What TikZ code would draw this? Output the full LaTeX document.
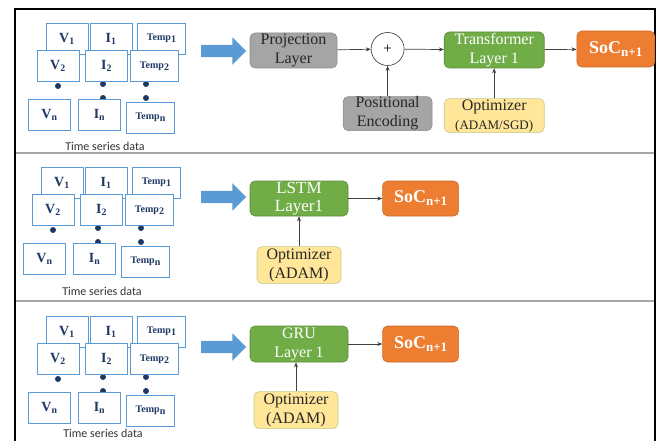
\documentclass[tikz,border=0pt]{standalone}
\usepackage{fontspec}
\setmainfont{Liberation Serif}
\newfontfamily\calibri{Carlito}
\usepackage{tikz}
\usetikzlibrary{%
  shapes, shapes.arrows, arrows.meta, positioning
}
\usepackage{xcolor}
\definecolor{tsNavy}{HTML}{1F3864}
\definecolor{tsBlue}{HTML}{5B9BD5}
\definecolor{tsGray}{HTML}{A5A5A5}
\definecolor{tsGreen}{HTML}{70AD47}
\definecolor{tsOrange}{HTML}{ED7D31}
\definecolor{tsYellow}{HTML}{FFE699}
\definecolor{tsOlive}{HTML}{C3CB8E}
\tikzstyle{dbox} = [%
  rectangle,
  draw=tsBlue,
  fill=white,
  line width=0.8pt,
  minimum width=42pt,
  minimum height=31pt,
  inner sep=0pt,
  text=tsNavy,
  font=\fontsize{14}{14}\selectfont\bfseries
]
\tikzstyle{tbox} = [%
  dbox,
  minimum width=48pt,
  font=\fontsize{10}{10}\selectfont\bfseries
]
\tikzstyle{ddot} = [circle, fill=tsNavy, minimum size=6pt, inner sep=0pt]
\tikzstyle{layer} = [%
  rectangle,
  rounded corners=5pt,
  align=center,
  inner sep=0pt,
  line width=0.6pt,
  font=\fontsize{16}{19}\selectfont
]

\begin{document}
\begin{tikzpicture}[%
  x=1pt, y=-1pt,
  link/.style={%
    -{Stealth[length=5pt,width=4pt]},
    line width=0.7pt,
    draw=black!75
  },
  grey/.style={fill=tsGray, draw=tsGray!85!black, text=black!85},
  green/.style={fill=tsGreen, draw=tsGreen!80!black, text=white},
  orange/.style={%
    fill=tsOrange, draw=tsOrange!85!black, text=white,
    font=\fontsize{18}{18}\selectfont\bfseries
  },
  yellow/.style={fill=tsYellow, draw=tsOlive, text=black!85},
  bigarrow/.style={%
    single arrow, fill=tsBlue, draw=none, inner sep=0pt,
    text width=0pt, text height=6pt, text depth=6pt,
    single arrow head extend=7.5pt, minimum height=45pt
  },
  caption/.style={font=\calibri\fontsize{12}{12}\selectfont, text=black!80},
  sep/.style={draw=black!35, line width=1.5pt}
]
  \useasboundingbox (0,0) rectangle (661,441);

  % Frame and separators
  \draw[line width=2.5pt] (15,441) -- (15,9) -- (655,9) -- (655,441);
  \draw[sep] (16,153) -- (654,153);
  \draw[sep] (16,301) -- (654,301);

  % Time series data, top
  \begin{scope}[name prefix=a-]
    \node[ddot] (dV) at (58,86) {};
    \node[ddot] (dI1) at (103,84) {};
    \node[ddot] (dI2) at (103,98) {};
    \node[ddot] (dT1) at (146,84) {};
    \node[ddot] (dT2) at (146,98) {};
    \node[dbox] (V1) at (67,38.5) {V\textsubscript{1}};
    \node[dbox] (I1) at (111,38.5) {I\textsubscript{1}};
    \node[tbox] (T1) at (161.5,38.5) {Temp\raisebox{-2pt}{1}};
    \node[dbox] (V2) at (58,65.5) {V\textsubscript{2}};
    \node[dbox] (I2) at (106.5,65.5) {I\textsubscript{2}};
    \node[tbox] (T2) at (154.5,66) {Temp\raisebox{-2pt}{2}};
    \node[dbox] (Vn) at (49.5,114.5) {V\textsubscript{n}};
    \node[dbox] (In) at (99.5,115) {I\textsubscript{n}};
    \node[tbox] (Tn) at (150.5,117.5) {Temp\raisebox{-2pt}{n}};
    \node[caption] (cap) at (105,146) {Time series data};
  \end{scope}

  % Time series data, middle
  \begin{scope}[shift={(-5,144)}, name prefix=b-]
    \node[ddot] (dV) at (58,86) {};
    \node[ddot] (dI1) at (103,84) {};
    \node[ddot] (dI2) at (103,98) {};
    \node[ddot] (dT1) at (146,84) {};
    \node[ddot] (dT2) at (146,98) {};
    \node[dbox] (V1) at (67,38.5) {V\textsubscript{1}};
    \node[dbox] (I1) at (111,38.5) {I\textsubscript{1}};
    \node[tbox] (T1) at (161.5,38.5) {Temp\raisebox{-2pt}{1}};
    \node[dbox] (V2) at (58,65.5) {V\textsubscript{2}};
    \node[dbox] (I2) at (106.5,65.5) {I\textsubscript{2}};
    \node[tbox] (T2) at (154.5,66) {Temp\raisebox{-2pt}{2}};
    \node[dbox] (Vn) at (49.5,114.5) {V\textsubscript{n}};
    \node[dbox] (In) at (99.5,115) {I\textsubscript{n}};
    \node[tbox] (Tn) at (150.5,117.5) {Temp\raisebox{-2pt}{n}};
    \node[caption] (cap) at (107,147) {Time series data};
  \end{scope}

  % Time series data, bottom
  \begin{scope}[shift={(0,293)}, name prefix=c-]
    \node[ddot] (dV) at (58,86) {};
    \node[ddot] (dI1) at (103,84) {};
    \node[ddot] (dI2) at (103,98) {};
    \node[ddot] (dT1) at (146,84) {};
    \node[ddot] (dT2) at (146,98) {};
    \node[dbox] (V1) at (67,38.5) {V\textsubscript{1}};
    \node[dbox] (I1) at (111,38.5) {I\textsubscript{1}};
    \node[tbox] (T1) at (161.5,38.5) {Temp\raisebox{-2pt}{1}};
    \node[dbox] (V2) at (58,65.5) {V\textsubscript{2}};
    \node[dbox] (I2) at (106.5,65.5) {I\textsubscript{2}};
    \node[tbox] (T2) at (154.5,66) {Temp\raisebox{-2pt}{2}};
    \node[dbox] (Vn) at (49.5,114.5) {V\textsubscript{n}};
    \node[dbox] (In) at (99.5,115) {I\textsubscript{n}};
    \node[tbox] (Tn) at (150.5,117.5) {Temp\raisebox{-2pt}{n}};
    \node[caption] (cap) at (103,140.5) {Time series data};
  \end{scope}

  % Big arrows
  \node[bigarrow] (go1) at (220.5,51) {};
  \node[bigarrow] (go2) at (220.5,197) {};
  \node[bigarrow] (go3) at (220.5,347) {};

  % Transformer model
  \node[layer,grey,minimum width=87pt,minimum height=35pt] (proj) at (293.5,50.5) {Projection\\Layer};
  \node[circle,draw=black!80,line width=0.6pt,minimum size=33pt,inner sep=0pt,right=33.5pt of proj,yshift=1.5pt,font=\fontsize{15}{15}\selectfont] (sum) {+};
  \node[layer,green,minimum width=100pt,minimum height=36pt,right=39.5pt of sum,yshift=-1pt] (trans) {Transformer\\Layer 1};
  \node[layer,orange,minimum width=78pt,minimum height=36pt,right=32pt of trans,yshift=1pt] (soc1) {SoC\raisebox{-3pt}{\fontsize{13}{13}\selectfont n+1}};
  \node[layer,grey,minimum width=89pt,minimum height=34pt,below=30.5pt of sum] (pos) {Positional\\Encoding};
  \node[layer,yellow,minimum width=100pt,minimum height=34pt,below=30pt of trans] (opt1) {Optimizer\\{\fontsize{13}{15}\selectfont(ADAM/SGD)}};

  \draw[link] (proj) -- (sum);
  \draw[link] (sum) -- (trans);
  \draw[link] (trans) -- (soc1);
  \draw[link] (pos) -- (sum);
  \draw[link] (opt1) -- (trans);

  % LSTM model
  \node[layer,green,minimum width=98pt,minimum height=35pt,font=\fontsize{17}{18}\selectfont] (lstm) at (299,198.5) {LSTM\\Layer1};
  \node[layer,orange,minimum width=76pt,minimum height=35pt,right=34pt of lstm] (soc2) {SoC\raisebox{-3pt}{\fontsize{13}{13}\selectfont n+1}};
  \node[layer,yellow,minimum width=84pt,minimum height=37pt,below=30pt of lstm] (opt2) {Optimizer\\(ADAM)};

  \draw[link] (lstm) -- (soc2);
  \draw[link] (opt2) -- (lstm);

  % GRU model
  \node[layer,green,minimum width=98pt,minimum height=36pt] (gru) at (299,344) {GRU\\Layer 1};
  \node[layer,orange,minimum width=76pt,minimum height=36pt,right=34pt of gru] (soc3) {SoC\raisebox{-3pt}{\fontsize{13}{13}\selectfont n+1}};
  \node[layer,yellow,minimum width=84pt,minimum height=37pt,below=29pt of gru,xshift=-3pt] (opt3) {Optimizer\\(ADAM)};

  \draw[link] (gru) -- (soc3);
  \draw[link] (opt3.north) -- (opt3.north |- gru.south);

\end{tikzpicture}
\end{document}
